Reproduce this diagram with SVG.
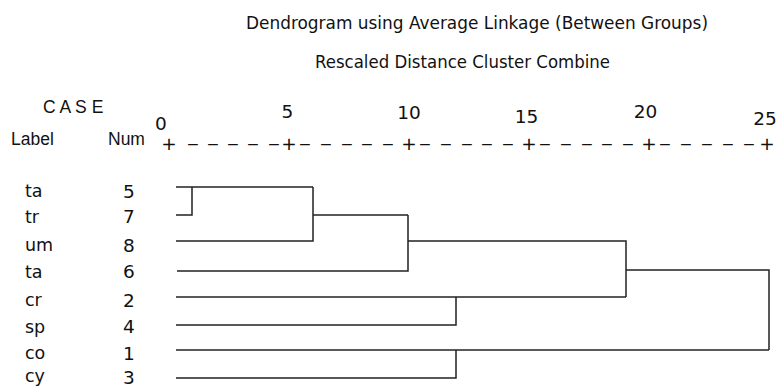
<svg xmlns="http://www.w3.org/2000/svg" width="779" height="387" viewBox="0 0 779 387">
<style>
.t{font-family:"DejaVu Sans",sans-serif;fill:#111}
.h{font-family:"Liberation Sans",Arial,sans-serif;fill:#111;font-size:17.5px}
.ttl{font-size:18.5px}
.ax{font-size:18.5px;text-anchor:middle}
.lab{font-size:17.5px}
.num{font-size:18.5px;text-anchor:middle}
.ln{fill:none;stroke:#222;stroke-width:1.5}
</style>
<rect width="779" height="387" fill="#fff"/>
<g id="titles">
<text class="t ttl" x="246" y="29" textLength="462" lengthAdjust="spacingAndGlyphs">Dendrogram using Average Linkage (Between Groups)</text>
<text class="t ttl" x="315" y="68" textLength="295" lengthAdjust="spacingAndGlyphs">Rescaled Distance Cluster Combine</text>
</g>
<g id="header">
<text class="h" x="43" y="113">C A S E</text>
<text class="h" x="11" y="145">Label</text>
<text class="h" x="108" y="145">Num</text>
</g>
<g id="axis">
<text class="t ax" x="161" y="130">0</text>
<text class="t ax" x="287.5" y="118">5</text>
<text class="t ax" x="409" y="119">10</text>
<text class="t ax" x="526.5" y="123">15</text>
<text class="t ax" x="645.5" y="118">20</text>
<text class="t ax" x="765" y="125">25</text>
<text class="t ax" x="169" y="150">+</text>
<text class="t ax" x="289" y="150">+</text>
<text class="t ax" x="409" y="150">+</text>
<text class="t ax" x="529" y="150">+</text>
<text class="t ax" x="649" y="150">+</text>
<text class="t ax" x="767" y="150">+</text>
<g transform="scale(2,1)">
<text class="t ax" y="149.5" x="96.5 106.5 116.5 126.5 137">-----</text>
<text class="t ax" y="149.5" x="152.5 163 173.5 183.5 194">-----</text>
<text class="t ax" y="149.5" x="212.5 223 233.5 243.5 254">-----</text>
<text class="t ax" y="149.5" x="272.5 283 293.5 303.5 314">-----</text>
<text class="t ax" y="149.5" x="332.5 343 353.5 364 374.5">-----</text>
</g>
</g>
<g id="case-5"><text class="t lab" x="25" y="197">ta</text><text class="t num" x="129" y="198">5</text></g>
<g id="case-7"><text class="t lab" x="25" y="223">tr</text><text class="t num" x="129" y="223">7</text></g>
<g id="case-8"><text class="t lab" x="25" y="251">um</text><text class="t num" x="129" y="252">8</text></g>
<g id="case-6"><text class="t lab" x="25" y="278">ta</text><text class="t num" x="129" y="278">6</text></g>
<g id="case-2"><text class="t lab" x="25" y="306">cr</text><text class="t num" x="129" y="307">2</text></g>
<g id="case-4"><text class="t lab" x="25" y="333">sp</text><text class="t num" x="129" y="333">4</text></g>
<g id="case-1"><text class="t lab" x="25" y="359">co</text><text class="t num" x="129" y="360">1</text></g>
<g id="case-3"><text class="t lab" x="25" y="382">cy</text><text class="t num" x="129" y="384">3</text></g>
<g id="connectors" class="ln">
<path d="M176,187 H313"/>
<path d="M176,215 H192 V187"/>
<path d="M176,241 H313 V187"/>
<path d="M313,215 H408"/>
<path d="M177,271 H408 V215"/>
<path d="M408,241 H626 V297"/>
<path d="M176,297 H626"/>
<path d="M176,325 H456 V297"/>
<path d="M626,270 H769 V350"/>
<path d="M176,350 H769"/>
<path d="M176,378 H456 V350"/>
</g>
</svg>
